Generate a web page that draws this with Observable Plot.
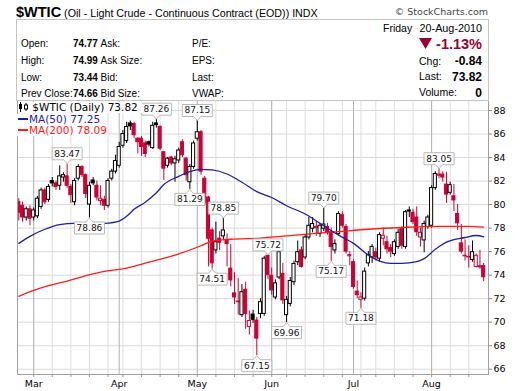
<!DOCTYPE html>
<html><head><meta charset="utf-8">
<script src="https://cdn.jsdelivr.net/npm/d3@7"></script>
<script src="https://cdn.jsdelivr.net/npm/@observablehq/plot@0.6"></script>
<style>
html,body{margin:0;padding:0;background:#fff;}
body{width:520px;height:391px;overflow:hidden;position:relative;font-family:"Liberation Sans",Arial,sans-serif;color:#000;}
.abs{position:absolute;white-space:nowrap;line-height:1;}
.leg{position:absolute;white-space:nowrap;line-height:11px;font-family:"DejaVu Sans",sans-serif;font-size:10.5px;background:#fff;padding-right:1px;z-index:5;}
</style></head><body>
<div id="chart" style="position:absolute;left:0;top:96px;"></div>
<div id="hdr"></div>
<script>
// ---- data ----
const firstDay = "2010-02-23", lastDay = "2010-08-20";
const holidays = ["2010-04-02", "2010-05-31", "2010-07-05"];
const firstPrevClose = 80.5;
const open = [80.2,79.9,78.9,79.6,78.9,79.0,79.8,81.2,80.4,82.0,81.8,81.6,82.3,82.4,81.5,80.2,82.2,83.2,82.5,80.0,82.05,81.6,80.3,80.4,79.9,82.2,82.8,83.3,85.0,85.4,86.9,86.85,85.6,85.6,85.2,85.3,84.8,86.9,86.6,84.45,83.3,84.0,83.5,83.75,85.3,83.9,81.9,83.2,85.6,86.15,82.2,80.6,77.8,76.1,77.1,77.3,77.0,74.55,72.45,71.75,70.6,72.75,69.6,70.65,70.14,70.7,70.7,75.65,73.95,72.1,73.8,74.1,70.6,71.55,73.4,75.1,76.1,75.5,77.2,77.95,78.0,77.5,77.95,78.1,77.65,76.1,77.5,79.1,78.1,75.6,75.1,72.6,71.9,72.0,75.0,75.5,75.95,75.4,77.1,76.8,76.3,75.8,76.4,77.9,76.4,79.5,79.3,78.9,77.2,76.95,78.1,78.2,81.4,82.45,82.55,81.7,81.0,80.7,79.2,76.7,75.65,75.55,75.3,74.7,74.75,74.77];
const high = [80.5,80.2,79.8,79.9,79.7,80.7,81.4,81.4,81.7,82.3,82.0,83.3,82.7,83.47,81.7,82.2,83.4,83.3,82.6,81.9,82.3,82.0,81.6,80.7,82.2,83.0,84.2,85.3,86.3,87.0,87.1,87.0,85.7,85.8,85.4,85.4,87.0,87.26,86.7,84.5,84.0,84.1,84.1,84.8,85.5,84.0,83.4,85.4,87.15,86.3,82.4,80.7,78.0,78.5,77.7,78.85,77.5,76.6,74.2,73.7,73.2,73.4,70.95,71.0,70.4,72.0,75.6,75.72,74.6,73.6,76.2,75.0,72.2,73.8,75.2,76.9,76.4,77.4,78.9,78.9,78.6,78.4,79.7,78.4,78.0,77.0,79.4,79.4,78.3,76.0,75.3,73.5,72.5,74.6,76.0,76.6,76.3,77.6,78.0,77.3,76.6,77.0,77.9,78.1,79.5,79.8,79.6,79.8,78.0,78.6,79.1,81.6,82.8,83.05,82.8,82.75,81.9,81.7,80.0,78.3,77.0,76.5,76.9,75.8,76.1,74.99];
const low = [78.6,78.5,78.6,78.2,78.6,78.8,79.6,80.0,80.2,81.5,81.2,81.2,81.9,81.4,80.1,79.9,82.0,82.3,80.5,78.86,81.6,80.3,79.9,79.5,79.7,82.0,82.6,83.1,84.8,85.2,86.3,85.6,84.3,84.1,84.0,84.9,84.7,86.5,84.6,82.05,83.1,83.3,81.9,83.5,84.0,82.0,81.29,83.0,85.4,82.5,79.9,74.7,74.51,75.8,76.1,77.0,74.7,73.0,71.5,70.6,70.4,69.4,68.9,69.9,67.15,70.3,70.5,73.6,72.3,71.9,73.6,71.5,69.96,71.3,73.1,74.8,74.6,75.3,77.0,77.6,77.3,77.2,77.7,77.4,75.17,75.8,77.3,78.0,75.8,74.8,72.8,72.0,71.18,71.8,74.7,75.0,75.2,75.1,76.5,75.8,75.5,75.6,76.2,76.2,76.2,78.9,78.3,77.3,76.4,75.9,77.9,78.0,81.2,82.2,81.9,80.1,80.8,79.4,77.8,75.8,75.2,74.6,75.1,74.6,74.5,73.44];
const close = [79.3,78.9,79.6,78.8,79.5,80.5,81.2,80.2,81.5,81.8,81.5,82.4,82.5,81.6,80.8,82.0,83.2,82.5,80.9,81.6,81.8,80.6,80.5,79.9,82.0,82.8,83.7,84.9,86.0,86.6,86.65,85.9,85.3,84.9,84.3,85.1,86.7,86.75,84.75,83.05,83.9,83.5,83.85,84.6,84.2,82.5,83.2,85.2,86.15,82.8,80.1,77.1,75.0,76.8,76.75,77.8,76.65,73.55,72.1,71.7,72.55,70.7,70.1,70.2,68.6,71.7,75.4,74.0,72.7,73.3,75.95,71.85,71.9,73.5,74.95,75.95,74.7,77.2,78.2,78.35,78.1,78.2,78.3,77.65,76.4,76.65,79.2,78.2,76.0,75.7,73.0,72.3,72.1,74.3,75.7,76.4,75.5,77.4,77.35,76.2,76.0,76.8,77.6,76.5,79.35,79.4,78.5,77.65,77.6,78.35,78.9,81.4,82.6,82.55,82.3,80.85,81.65,80.35,78.4,76.0,75.6,75.5,75.95,75.65,74.66,73.82];
const ma50Day = [0,3,7,11,15,19,23,27,29,31,34,37,39,43,46,49,52,56,60,64,68,72,77,82,86,90,94,97,100,103,107,109,112,115,120,123,125];
const ma50Val = [76.7,77.3,77.9,78.3,78.4,78.35,78.4,78.6,79.0,79.6,80.2,81.0,81.7,82.4,82.8,83.0,82.95,82.6,81.9,81.1,80.6,79.9,79.2,78.2,77.4,76.7,75.7,75.2,75.0,75.0,75.15,75.4,76.2,76.8,77.2,77.37,77.25];
const ma200Day = [0,4,8,13,22,29,35,42,49,52,57,65,76,86,94,103,113,121,125];
const ma200Val = [72.2,72.7,73.1,73.5,74.25,74.6,75.1,75.7,76.5,76.9,77.05,77.15,77.45,77.7,77.9,78.05,78.15,78.15,78.09];
const labelDay = [13,19,37,46,48,52,55,64,67,72,82,84,92,113];
const labelValue = [83.47,78.86,87.26,81.29,87.15,74.51,78.85,67.15,75.72,69.96,79.70,75.17,71.18,83.05];
const labelSide = ["high","low","high","low","high","low","high","low","high","low","high","low","low","high"];
const yTicks = [66,68,70,72,74,76,78,80,82,84,86,88];
const monthNames = ["Jan","Feb","Mar","Apr","May","Jun","Jul","Aug","Sep","Oct","Nov","Dec"];

// ---- trading calendar ----
const dates = [];
for (let d = new Date(firstDay + "T12:00:00Z"); d <= new Date(lastDay + "T12:00:00Z"); d = new Date(d.getTime() + 864e5)) {
  const wd = d.getUTCDay(), iso = d.toISOString().slice(0, 10);
  if (wd === 0 || wd === 6 || holidays.includes(iso)) continue;
  dates.push(d);
}
const RED = "#cc0033", BLK = "#000000";
const rows = dates.map((d, i) => {
  const prev = i === 0 ? firstPrevClose : close[i - 1];
  const color = close[i] >= prev ? BLK : RED;
  return {i, date: d, o: open[i], h: high[i], l: low[i], c: close[i], color,
          fill: close[i] >= open[i] ? "#ffffff" : color};
});
const monthStarts = rows.filter((r, i) => i > 0 && r.date.getUTCMonth() !== rows[i - 1].date.getUTCMonth());
const weekStarts = rows.filter((r, i) => i > 0 && (r.date.getUTCDay() < rows[i - 1].date.getUTCDay() || r.date - rows[i-1].date > 3*864e5));
const ma50 = ma50Day.map((d, k) => ({i: d, v: ma50Val[k]}));
const ma200 = ma200Day.map((d, k) => ({i: d, v: ma200Val[k]}));
const labels = labelDay.map((d, k) => ({i: d, v: labelValue[k], side: labelSide[k]}));
const highLabels = labels.filter(d => d.side === "high"), lowLabels = labels.filter(d => d.side === "low");

// label callout shapes (pointer tip at the data point)
const BW = 15, BH = 12, PT = 4;
const calloutAbove = {draw(c) { c.moveTo(0, 0); c.lineTo(-3.5, -PT); c.lineTo(-BW, -PT); c.lineTo(-BW, -PT - BH); c.lineTo(BW, -PT - BH); c.lineTo(BW, -PT); c.lineTo(3.5, -PT); c.closePath(); }};
const calloutBelow = {draw(c) { c.moveTo(0, 0); c.lineTo(-3.5, PT); c.lineTo(-BW, PT); c.lineTo(-BW, PT + BH); c.lineTo(BW, PT + BH); c.lineTo(BW, PT); c.lineTo(3.5, PT); c.closePath(); }};
const boxStyle = {x: "i", y: "v", fill: "white", stroke: "#b8b8b8", strokeWidth: 1};
const txtStyle = {x: "i", y: "v", text: d => d.v.toFixed(2), fontSize: 9, fontFamily: "DejaVu Sans", fill: "#111"};

const chart = Plot.plot({
  width: 520, height: 295,
  marginTop: 4, marginBottom: 17, marginLeft: 17, marginRight: 32,
  style: {background: "transparent", fontFamily: "DejaVu Sans", fontSize: "9px", color: "#000"},
  x: {type: "linear", domain: [-0.35, 126.3], axis: null},
  y: {domain: [65.55, 88.85], axis: null},
  color: {type: "identity"},
  marks: [
    Plot.ruleY(yTicks, {stroke: "#d9d9d9", strokeWidth: 1}),
    Plot.ruleX(weekStarts, {x: "i", stroke: "#dedede", strokeWidth: 1}),
    Plot.ruleX(monthStarts, {x: "i", stroke: "#b4b4b4", strokeWidth: 1}),
    Plot.ruleX(rows, {x: "i", y1: "l", y2: "h", stroke: "color", strokeWidth: 1, clip: true}),
    Plot.rect(rows, {x1: d => d.i - 0.42, x2: d => d.i + 0.42, y1: d => Math.min(d.o, d.c), y2: d => Math.max(d.o, d.c),
      fill: "fill", stroke: "color", strokeWidth: 1, clip: true}),
    Plot.line(ma200, {x: "i", y: "v", stroke: "#ff1a1a", strokeWidth: 1.3, curve: "monotone-x"}),
    Plot.line(ma50, {x: "i", y: "v", stroke: "#1f1f99", strokeWidth: 1.3, curve: "monotone-x"}),
    Plot.dot(highLabels, {...boxStyle, symbol: calloutAbove}),
    Plot.dot(lowLabels, {...boxStyle, symbol: calloutBelow}),
    Plot.text(highLabels, {...txtStyle, dy: -(PT + BH / 2)}),
    Plot.text(lowLabels, {...txtStyle, dy: PT + BH / 2}),
    Plot.frame({stroke: "#a0a0a0"}),
    Plot.axisY(yTicks, {anchor: "right", tickSize: 3, tickPadding: 2, fontSize: 9.5, stroke: "#888", tickFormat: d => String(d)}),
    Plot.axisX(weekStarts.map(r => r.i), {anchor: "bottom", tickSize: 3, stroke: "#999", fill: "none", label: null}),
    Plot.axisX(monthStarts.map(r => r.i), {anchor: "bottom", tickSize: 0, tickPadding: 6, fontSize: 9.5, label: null,
      tickFormat: i => monthNames[rows[i].date.getUTCMonth()]})
  ]
});
document.getElementById("chart").appendChild(chart);

// ---- header & legend (text) ----
const last = rows[rows.length - 1], prevClose = close[close.length - 2];
const chg = last.c - prevClose, pct = chg / prevClose * 100;
const dayNames = ["Sunday","Monday","Tuesday","Wednesday","Thursday","Friday","Saturday"];
const dt = last.date;
const dateStr = `${dt.getUTCDate()}-${monthNames[dt.getUTCMonth()]}-${dt.getUTCFullYear()}`;
const h = [];
const put = (html, style) => h.push(`<div class="abs" style="${style}">${html}</div>`);
put(`<span style="font-weight:bold;font-size:14.5px">$WTIC</span><span style="font-size:10.7px"> (Oil - Light Crude - Continuous Contract (EOD)) INDX</span>`, "left:16px;top:4px;");
put(`© StockCharts.com`, "right:32px;top:7px;font-family:'DejaVu Sans';font-size:9.5px;color:#444;");
h.push(`<div style="position:absolute;left:16px;top:19px;width:471px;height:80px;border:1px solid #c4c4c4;"></div>`);
const rowsY = [38.5, 55.5, 72.5, 89];
[["Open:", last.o, "Ask:", "P/E:"], ["High:", last.h, "Ask Size:", "EPS:"], ["Low:", last.l, "Bid:", "Last:"], ["Prev Close:", prevClose, "Bid Size:", "VWAP:"]]
  .forEach(([a, v, b, c], k) => {
    put(a, `left:21px;top:${rowsY[k]}px;font-size:10px;`);
    put(v.toFixed(2), `left:72.5px;top:${rowsY[k] - 1}px;font-size:11.5px;font-weight:bold;transform:scaleX(0.86);transform-origin:0 0;`);
    put(b, `left:100.5px;top:${rowsY[k]}px;font-size:10px;`);
    put(c, `left:192px;top:${rowsY[k]}px;font-size:10px;`);
  });
put(dayNames[dt.getUTCDay()], "left:383px;top:22.5px;font-size:10.5px;");
put(dateStr, "right:38px;top:22.5px;font-size:10.8px;");
h.push(`<svg style="position:absolute;left:419px;top:38px" width="14" height="12"><polygon points="0,0 13,0 6.5,11" fill="#990033"/></svg>`);
put(`${pct.toFixed(2)}%`, "right:38px;top:36.5px;font-size:14.5px;font-weight:bold;color:#990033;");
put("Chg:", "left:419px;top:55.5px;font-size:10.5px;");
put(chg.toFixed(2), "right:38px;top:54.5px;font-size:12px;font-weight:bold;");
put("Last:", "left:419px;top:71px;font-size:10.5px;");
put(last.c.toFixed(2), "right:38px;top:70.5px;font-size:12px;font-weight:bold;");
put("Volume:", "left:419px;top:87px;font-size:10.5px;");
put("0", "right:38px;top:86.5px;font-size:12px;font-weight:bold;");
// legend
h.push(`<div class="leg" style="left:18px;top:102px;padding-right:4px;"><svg width="11" height="10" style="vertical-align:-1px"><line x1="2.5" y1="0" x2="2.5" y2="10" stroke="#000"/><rect x="1" y="2" width="3" height="5" fill="#000"/><line x1="8" y1="1" x2="8" y2="9" stroke="#000"/><rect x="6.5" y="3" width="3" height="4" fill="#fff" stroke="#000"/></svg> $WTIC (Daily) ${last.c.toFixed(2)}</div>`);
h.push(`<div class="leg" style="left:17px;top:113.5px;color:#1f1f99;"><span style="display:inline-block;width:10px;height:2px;background:#1f1f99;vertical-align:3px;margin:0 1px 0 1px"></span>MA(50) ${ma50Val[ma50Val.length-1].toFixed(2)}</div>`);
h.push(`<div class="leg" style="left:17px;top:124.5px;color:#ff1a1a;"><span style="display:inline-block;width:10px;height:2px;background:#ff1a1a;vertical-align:3px;margin:0 1px 0 1px"></span>MA(200) ${ma200Val[ma200Val.length-1].toFixed(2)}</div>`);
document.getElementById("hdr").innerHTML = h.join("");
</script>
</body></html>
